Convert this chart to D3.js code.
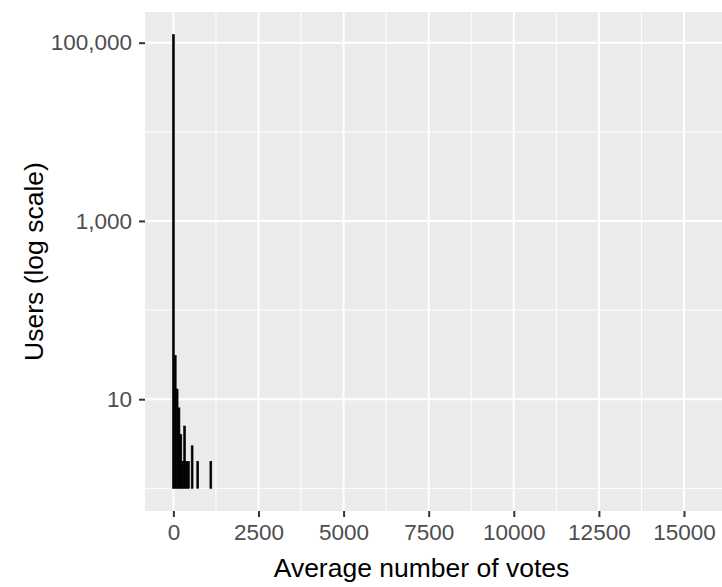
<!DOCTYPE html>
<html>
<head>
<meta charset="utf-8">
<script src="https://cdn.jsdelivr.net/npm/d3@7"></script>
<style>
  html, body { margin: 0; padding: 0; background: #ffffff; }
  svg { display: block; }
  text { font-family: "Liberation Sans", Arial, sans-serif; }
</style>
</head>
<body>
<div id="chart"></div>
<script>
// Histogram of average votes per user (bin width 55 votes)
const binWidth = 55;
const binCenters = [0, 55, 110, 165, 220, 275, 330, 385, 440, 550, 715, 1100];
const users      = [123000, 31, 13, 8, 4, 2, 5, 2, 2, 3, 2, 2];

// Full histogram extent (the long tail holds single-user bins of zero log height)
const histExtent = [-27.5, 16102.5];

const xTicks = [0, 2500, 5000, 7500, 10000, 12500, 15000];
const xMinor = [1250, 3750, 6250, 8750, 11250, 13750, 16250];
const yTicks = [10, 1000, 100000];
const yTickLabels = ["10", "1,000", "100,000"];
const yMinor = [1, 100, 10000, 1000000];

const W = 722, H = 587;
const panel = { left: 145, top: 12, bottom: 511 };

const svg = d3.select("#chart").append("svg")
  .attr("width", W).attr("height", H);

// x scale: 5% expansion on both sides of the histogram extent
const xSpan = histExtent[1] - histExtent[0];
const xDom = [histExtent[0] - 0.05 * xSpan, histExtent[1] + 0.05 * xSpan];
const pxPerUnit = 0.03404;
const panelRight = panel.left + (xDom[1] - xDom[0]) * pxPerUnit;
const x = d3.scaleLinear().domain(xDom).range([panel.left, panelRight]);

// y scale: log10, bars start at 1 user, 5% expansion in log space
const lo = 0, hi = Math.log10(d3.max(users));
const pad = 0.05 * (hi - lo);
const y = d3.scaleLog()
  .domain([Math.pow(10, lo - pad), Math.pow(10, hi + pad)])
  .range([panel.bottom, panel.top]);

// panel background
svg.append("rect")
  .attr("x", panel.left).attr("y", panel.top)
  .attr("width", panelRight - panel.left)
  .attr("height", panel.bottom - panel.top)
  .attr("fill", "#EBEBEB");

const grid = svg.append("g");
// minor grid
grid.selectAll("line.ymin").data(yMinor.filter(v => y(v) >= panel.top && y(v) <= panel.bottom))
  .join("line")
  .attr("x1", panel.left).attr("x2", panelRight)
  .attr("y1", d => y(d)).attr("y2", d => y(d))
  .attr("stroke", "#ffffff").attr("stroke-width", 1);
grid.selectAll("line.xmin").data(xMinor)
  .join("line")
  .attr("y1", panel.top).attr("y2", panel.bottom)
  .attr("x1", d => x(d)).attr("x2", d => x(d))
  .attr("stroke", "#ffffff").attr("stroke-width", 1);
// major grid
grid.selectAll("line.ymaj").data(yTicks)
  .join("line")
  .attr("x1", panel.left).attr("x2", panelRight)
  .attr("y1", d => y(d)).attr("y2", d => y(d))
  .attr("stroke", "#ffffff").attr("stroke-width", 2);
grid.selectAll("line.xmaj").data(xTicks)
  .join("line")
  .attr("y1", panel.top).attr("y2", panel.bottom)
  .attr("x1", d => x(d)).attr("x2", d => x(d))
  .attr("stroke", "#ffffff").attr("stroke-width", 2);

// bars (thin black outline closes the seams between neighbouring bins)
svg.append("g").selectAll("rect")
  .data(binCenters.map((c, i) => ({ c, n: users[i] })))
  .join("rect")
  .attr("x", d => x(d.c - binWidth / 2))
  .attr("width", d => x(d.c + binWidth / 2) - x(d.c - binWidth / 2))
  .attr("y", d => y(d.n))
  .attr("height", d => y(1) - y(d.n))
  .attr("fill", "#000000")
  .attr("stroke", "#000000")
  .attr("stroke-width", 0.6);

// x axis
const xAxis = d3.axisBottom(x).tickValues(xTicks).tickFormat(d3.format("d"))
  .tickSize(6).tickPadding(7);
const gx = svg.append("g").attr("transform", `translate(0,${panel.bottom})`).call(xAxis);
gx.select(".domain").remove();
gx.selectAll(".tick line").attr("stroke", "#333333").attr("stroke-width", 2);
gx.selectAll(".tick text")
  .attr("fill", "#4D4D4D").attr("font-size", 22.5)
  .attr("font-family", "'Liberation Sans', Arial, sans-serif");

// y axis
const yAxis = d3.axisLeft(y).tickValues(yTicks)
  .tickFormat((d, i) => yTickLabels[i]).tickSize(6).tickPadding(7);
const gy = svg.append("g").attr("transform", `translate(${panel.left},0)`).call(yAxis);
gy.select(".domain").remove();
gy.selectAll(".tick line").attr("stroke", "#333333").attr("stroke-width", 2);
gy.selectAll(".tick text")
  .attr("fill", "#4D4D4D").attr("font-size", 22.5)
  .attr("font-family", "'Liberation Sans', Arial, sans-serif");

// axis titles
svg.append("text")
  .attr("x", (panel.left + 722) / 2 - 12).attr("y", 577)
  .attr("text-anchor", "middle")
  .attr("font-size", 26.5).attr("fill", "#000000")
  .text("Average number of votes");

svg.append("text")
  .attr("transform", `translate(43,${(panel.top + panel.bottom) / 2}) rotate(-90)`)
  .attr("text-anchor", "middle")
  .attr("font-size", 26.5).attr("fill", "#000000")
  .text("Users (log scale)");
</script>
</body>
</html>
